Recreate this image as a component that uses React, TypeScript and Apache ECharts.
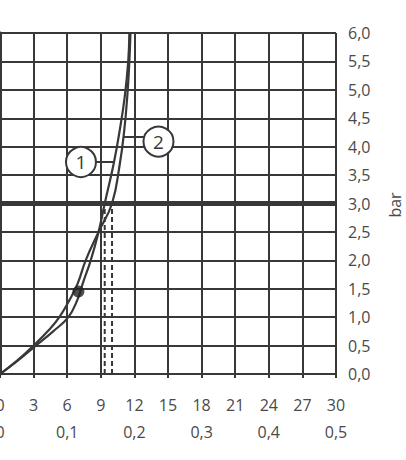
import React, { useEffect, useRef } from "react";
import * as echarts from "echarts";

// x: flow in l/min (0..30), secondary scale l/s (0..0.5); y: pressure in bar
const curve1: [number, number][] = [
  [0, 0], [1.5, 0.22], [3.2, 0.5], [4.8, 0.76], [6.1, 1.0], [6.9, 1.3], [7.4, 1.6],
  [8.1, 2.0], [8.8, 2.5], [9.35, 3.0], [10.15, 3.7], [10.7, 4.3], [11.15, 4.9], [11.45, 5.5], [11.55, 6.0],
];
const curve2: [number, number][] = [
  [0, 0], [1.5, 0.23], [3.0, 0.5], [4.3, 0.76], [5.3, 1.0], [6.2, 1.3], [6.95, 1.6],
  [7.65, 2.0], [8.8, 2.5], [10.0, 3.0], [10.7, 3.7], [11.1, 4.3], [11.37, 4.9], [11.55, 5.5], [11.65, 6.0],
];
const refPressure = 3.0;
const dashedFlows = [9.35, 10.0];
const dotPoint: [number, number] = [7.0, 1.45];
const callouts = [
  { label: "1", circle: [7.23, 3.73], anchor: [10.2, 3.73] },
  { label: "2", circle: [14.15, 4.09], anchor: [11.05, 4.17] },
];

const INK = "#383838";
const TXT = "#4a4a4a";
const FONT = "'Open Sans'";

const comma = (v: number, d: number) => (v === 0 ? "0" : v.toFixed(d).replace(".", ","));

export default function App() {
  const ref = useRef<HTMLDivElement>(null);
  useEffect(() => {
    if (!ref.current) return;
    const chart = echarts.init(ref.current, null, { renderer: "svg" });
    const series: any[] = [];
    series.push({
      type: "line",
      data: [[0, refPressure], [30, refPressure]],
      symbol: "none",
      lineStyle: { color: INK, width: 5 },
      z: 3,
    });
    dashedFlows.forEach((f) => {
      series.push({
        type: "line",
        data: [[f, 0], [f, refPressure]],
        symbol: "none",
        lineStyle: { color: INK, width: 2, type: [5, 3] },
        z: 3,
      });
    });
    [curve1, curve2].forEach((c) => {
      series.push({
        type: "line",
        data: c,
        smooth: 0.45,
        symbol: "none",
        lineStyle: { color: INK, width: 2.2 },
        z: 4,
      });
    });
    series.push({
      type: "scatter",
      data: [dotPoint],
      symbol: "circle",
      symbolSize: 12,
      itemStyle: { color: "#222" },
      z: 6,
    });
    callouts.forEach((co) => {
      series.push({
        type: "line",
        data: [co.anchor, [co.circle[0], co.anchor[1]]],
        symbol: "none",
        lineStyle: { color: INK, width: 2 },
        z: 5,
      });
      series.push({
        type: "scatter",
        data: [co.circle],
        symbol: "circle",
        symbolSize: 30,
        itemStyle: { color: "#fff", borderColor: INK, borderWidth: 2, opacity: 1 },
        label: {
          show: true,
          position: "inside",
          formatter: co.label,
          color: INK,
          fontSize: 19,
          fontFamily: FONT,
        },
        z: 7,
      });
    });

    chart.setOption({
      animation: false,
      grid: { left: 0, right: 70, top: 33, bottom: 86, containLabel: false, outerBoundsMode: "none" },
      xAxis: [
        {
          type: "value",
          min: 0,
          max: 30,
          interval: 3,
          position: "bottom",
          axisLine: { show: true, lineStyle: { color: INK, width: 2 } },
          axisTick: { show: true, length: 4, lineStyle: { color: INK, width: 2 } },
          splitLine: { show: true, lineStyle: { color: INK, width: 2 } },
          axisLabel: { color: TXT, fontSize: 16, fontFamily: FONT, margin: 23, formatter: (v: number) => comma(v, 0) },
        },
        {
          type: "value",
          min: 0,
          max: 0.5,
          interval: 0.1,
          position: "bottom",
          offset: 27,
          axisLine: { show: false },
          axisTick: { show: false },
          splitLine: { show: false },
          axisLabel: { color: TXT, fontSize: 16, fontFamily: FONT, margin: 23, formatter: (v: number) => comma(v, 1) },
        },
      ],
      yAxis: {
        type: "value",
        min: 0,
        max: 6,
        interval: 0.5,
        position: "right",
        axisLine: { show: true, lineStyle: { color: INK, width: 3 } },
        axisTick: { show: true, length: 5, lineStyle: { color: INK, width: 2 } },
        splitLine: { show: true, lineStyle: { color: INK, width: 2 } },
        axisLabel: { color: TXT, fontSize: 16, fontFamily: FONT, margin: 12, formatter: (v: number) => v.toFixed(1).replace(".", ",") },
      },
      graphic: [
        {
          type: "text",
          x: 395,
          y: 205,
          rotation: Math.PI / 2,
          style: { text: "bar", fill: TXT, fontSize: 16, fontFamily: FONT, align: "center", verticalAlign: "middle" },
        },
      ],
      series,
    });
    return () => chart.dispose();
  }, []);
  return <div ref={ref} style={{ position: "absolute", left: 0, top: 0, width: 406, height: 460 }} />;
}
